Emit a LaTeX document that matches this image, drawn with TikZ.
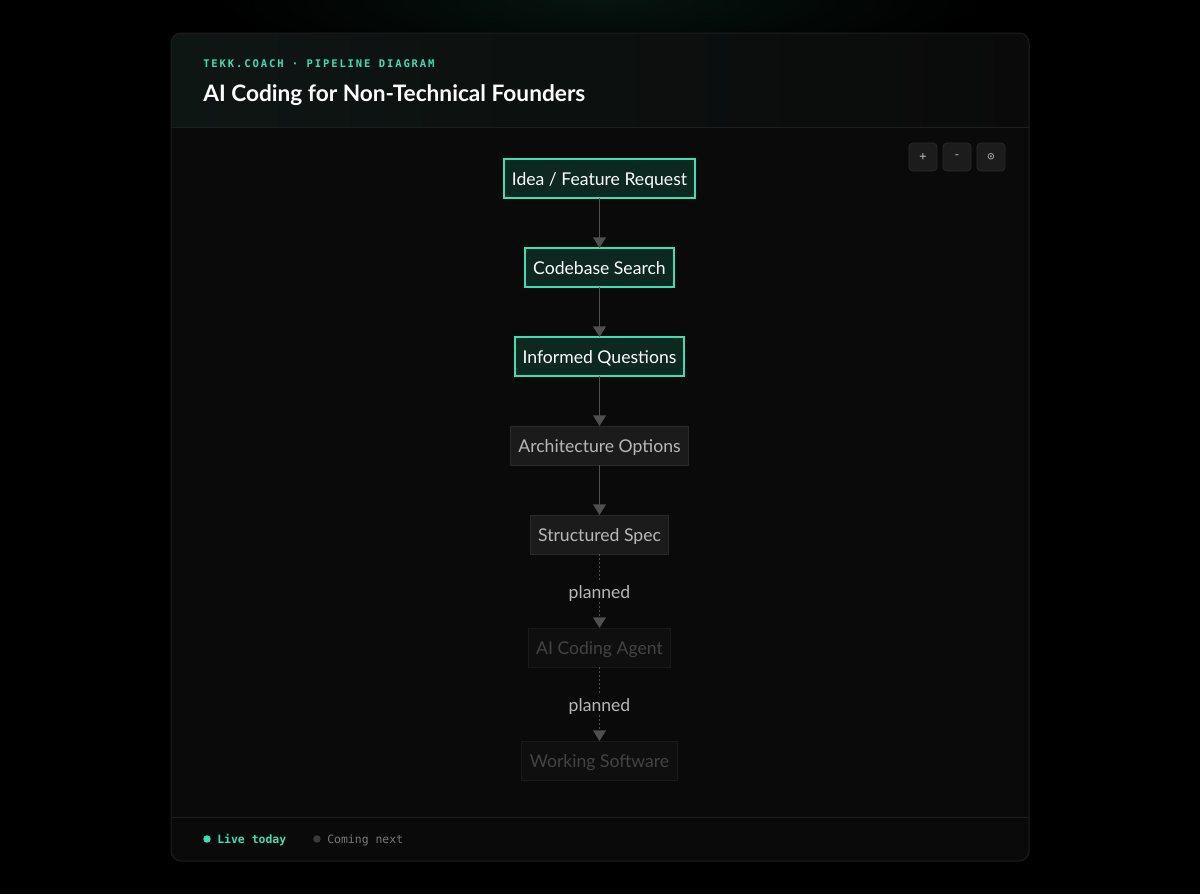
\documentclass[tikz,border=0pt]{standalone}
\usepackage{fontspec}
\setmainfont{Lato}
\setmonofont{DejaVu Sans Mono}
\newfontfamily\symfont{DejaVu Sans Mono}
\usetikzlibrary{arrows.meta, positioning}
\definecolor{pagebg}{HTML}{000000}
\definecolor{glowcol}{HTML}{06140F}
\definecolor{cardbg}{HTML}{0A0A0A}
\definecolor{headbg}{HTML}{0E1614}
\definecolor{cardline}{HTML}{1E1E1E}
\definecolor{livecol}{HTML}{3DDFB1}
\definecolor{livefill}{HTML}{0C2820}
\definecolor{soonfill}{HTML}{1B1B1B}
\definecolor{soonline}{HTML}{2A2A2A}
\definecolor{soontext}{HTML}{B8B8B8}
\definecolor{laterfill}{HTML}{0F0F0F}
\definecolor{laterline}{HTML}{1A1A1A}
\definecolor{latertext}{HTML}{434343}
\definecolor{arrowcol}{HTML}{505050}
\definecolor{btnfill}{HTML}{1C1C1C}
\definecolor{legendgray}{HTML}{7A7A7A}
\definecolor{nextdotcol}{HTML}{3A3A3A}
\newcommand{\nodefont}{\fontsize{13.2}{15}\selectfont}
\tikzset{%
	live/.style={draw=livecol, line width=1.5pt, fill=livefill, text=white, outer sep=0pt,%
		minimum height=29.25pt, inner xsep=6pt, text height=11pt, text depth=0pt, font=\nodefont},
	soon/.style={draw=soonline, line width=0.75pt, fill=soonfill, text=soontext, outer sep=0pt,%
		minimum height=29.25pt, inner xsep=6pt, text height=11pt, text depth=0pt, font=\nodefont},
	later/.style={draw=laterline, line width=0.75pt, fill=laterfill, text=latertext, outer sep=0pt,%
		minimum height=29.25pt, inner xsep=6pt, text height=11pt, text depth=0pt, font=\nodefont},
	flow/.style={draw=arrowcol, line width=1.4pt, -{Triangle[width=9.5pt,length=8pt]}},
	plan/.style={flow, dash pattern=on 1.4pt off 1.6pt},
	tag/.style={fill=cardbg, text=soontext, font=\nodefont, inner sep=1.5pt,%
		text height=11pt, text depth=0pt},
	ctrlbtn/.style={draw=soonline, line width=0.6pt, fill=btnfill, rounded corners=3pt,%
		minimum size=21pt, inner sep=0pt, text=soontext, font=\symfont\fontsize{9}{10}\selectfont},
	dot/.style={circle, inner sep=0pt, minimum size=5.6pt}
}

\begin{document}
\begin{tikzpicture}[x=0.75pt, y=-0.75pt]
	% page and card
	\fill[pagebg] (0,0) rectangle (1200,894);
	\useasboundingbox (0,0) rectangle (1200,894);
	\shade[inner color=glowcol, outer color=pagebg] (600,0) ellipse (380 and 70);
	\fill[cardbg, rounded corners=7.5pt] (171,33) rectangle (1029,861);
	\begin{scope}
		\clip[rounded corners=7.5pt] (171,33) rectangle (1029,861);
		\shade[left color=headbg, right color=cardbg] (171,33) rectangle (1029,127);
	\end{scope}
	\draw[cardline, line width=0.75pt, rounded corners=7.5pt] (171,33) rectangle (1029,861);
	\draw[cardline, line width=0.75pt] (171,127) -- (1029,127);
	\draw[cardline, line width=0.75pt] (171,817) -- (1029,817);

	% header
	\node[anchor=base west, inner sep=0pt, text=livecol,%
		font=\ttfamily\bfseries\addfontfeature{LetterSpace=18}\fontsize{7.9}{9}\selectfont]%
		(kicker) at (203,67.5) {TEKK.COACH · PIPELINE DIAGRAM};
	\node[anchor=base west, inner sep=0pt, text=white, font=\bfseries\fontsize{17}{19}\selectfont]%
		(title) at (203,101) {AI Coding for Non-Technical Founders};

	% zoom controls
	\node[ctrlbtn] (zoomin) at (923,157) {+};
	\node[ctrlbtn] (zoomout) at (957,157) {-};
	\node[ctrlbtn] (zoomfit) at (991,157) {⊙};

	% pipeline
	\node[live] (idea) at (599.5,178.5) {Idea / Feature Request};
	\node[live, below=37.5pt of idea] (search) {Codebase Search};
	\node[live, below=37.5pt of search] (questions) {Informed Questions};
	\node[soon, below=37.5pt of questions] (options) {Architecture Options};
	\node[soon, below=37.5pt of options] (spec) {Structured Spec};
	\node[later, below=55.5pt of spec] (agent) {AI Coding Agent};
	\node[later, below=55.5pt of agent] (software) {Working Software};

	\draw[flow] (idea) -- (search);
	\draw[flow] (search) -- (questions);
	\draw[flow] (questions) -- (options);
	\draw[flow] (options) -- (spec);
	\draw[plan] (spec) -- node[tag] (plannedA) {planned} (agent);
	\draw[plan] (agent) -- node[tag] (plannedB) {planned} (software);

	% legend
	\node[dot, fill=livecol] (livedot) at (207,839) {};
	\node[anchor=base west, inner sep=0pt, text=livecol, font=\ttfamily\bfseries\fontsize{8.6}{10}\selectfont]%
		(livetxt) at (217,843) {Live today};
	\node[dot, fill=nextdotcol] (nextdot) at (317,839) {};
	\node[anchor=base west, inner sep=0pt, text=legendgray, font=\ttfamily\fontsize{8.6}{10}\selectfont]%
		(nexttxt) at (327,843) {Coming next};
\end{tikzpicture}
\end{document}
